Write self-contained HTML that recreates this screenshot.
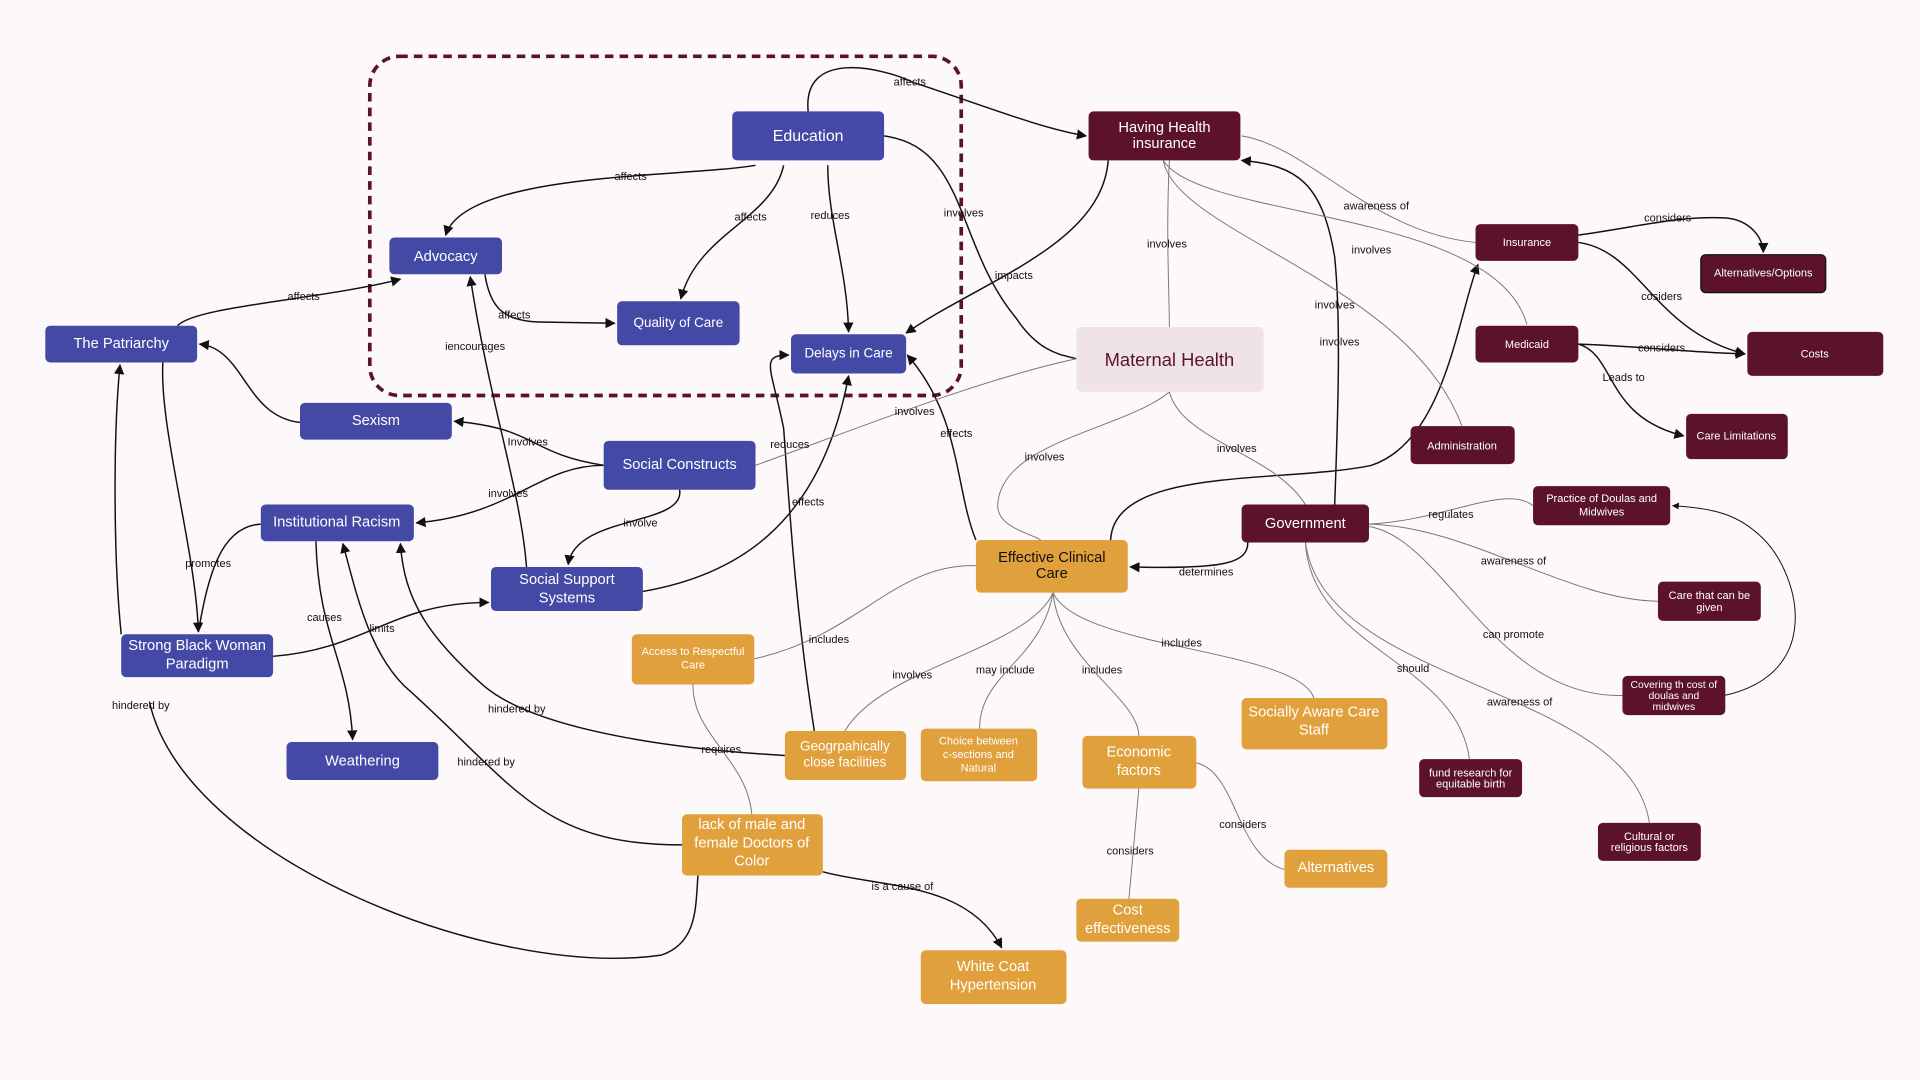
<!DOCTYPE html>
<html><head><meta charset="utf-8"><style>
html,body{margin:0;padding:0;background:#fdf9fb;}
svg{display:block;}
text{font-family:"Liberation Sans",sans-serif;}
.b{fill:#4349a5;}
.m{fill:#5c1229;}
.o{fill:#e0a03c;}
.t{fill:#fff;text-anchor:middle;}
.l{font-size:9px;fill:#111;text-anchor:middle;}
.e{fill:none;stroke:#111;stroke-width:1.2;}
.g{fill:none;stroke:#777;stroke-width:0.8;}
</style></head><body>
<svg width="1920" height="1080" viewBox="0 0 1568 882" xmlns="http://www.w3.org/2000/svg">
<defs><marker id="a" viewBox="0 0 10 10" refX="9" refY="5" markerWidth="7" markerHeight="7" orient="auto"><path d="M0,0L10,5L0,10z" fill="#111"/></marker></defs>
<rect width="1568" height="882" fill="#fdf9fb"/>
<rect x="302" y="46" width="483" height="277" rx="24" fill="none" stroke="#5c1229" stroke-width="3" stroke-dasharray="7,5"/>

<!-- edges -->
<g class="e">
<path d="M660,91 C655,40 720,55 745,67 C800,85 850,105 887,111" marker-end="url(#a)"/>
<path d="M617,135 C560,145 380,140 364,192" marker-end="url(#a)"/>
<path d="M640,135 C630,180 570,190 556,244" marker-end="url(#a)"/>
<path d="M676,135 C676,180 692,220 693,271" marker-end="url(#a)"/>
<path d="M722,111 C790,120 780,200 830,260 C850,290 870,290 879,293"/>
<path d="M905,131 C900,200 800,230 740,272" marker-end="url(#a)"/>
<path d="M145,266 C160,250 260,245 327,228" marker-end="url(#a)"/>
<path d="M396,224 C400,250 410,262 440,263 L502,264" marker-end="url(#a)"/>
<path d="M430,463 C425,400 400,330 384,226" marker-end="url(#a)"/>
<path d="M245,345 C200,340 200,285 163,281" marker-end="url(#a)"/>
<path d="M493,380 C430,370 440,350 371,344" marker-end="url(#a)"/>
<path d="M493,380 C440,380 420,420 340,427" marker-end="url(#a)"/>
<path d="M555,400 C560,430 470,420 464,461" marker-end="url(#a)"/>
<path d="M133,296 C130,350 160,450 162,516" marker-end="url(#a)"/>
<path d="M213,428 C180,430 170,470 162,516"/>
<path d="M223,536 C300,530 320,492 399,492" marker-end="url(#a)"/>
<path d="M258,442 C260,520 285,540 288,604" marker-end="url(#a)"/>
<path d="M525,483 C600,470 670,430 693,307" marker-end="url(#a)"/>
<path d="M665,597 C650,500 645,420 640,350 C630,300 620,290 644,290" marker-end="url(#a)"/>
<path d="M797,441 C780,400 785,340 741,290" marker-end="url(#a)"/>
<path d="M1019,442 C1020,460 1000,465 923,463" marker-end="url(#a)"/>
<path d="M907,441 C910,380 1050,395 1120,380 C1180,360 1190,260 1207,216" marker-end="url(#a)"/>
<path d="M1090,412 C1093,330 1095,260 1090,210 C1080,150 1060,135 1014,131" marker-end="url(#a)"/>
<path d="M122,573 C150,700 400,800 540,780 C570,770 568,740 570,715"/>
<path d="M99,518 C93,460 92,360 98,298" marker-end="url(#a)"/>
<path d="M557,690 C440,690 420,640 330,560 C300,530 290,480 280,444" marker-end="url(#a)"/>
<path d="M641,617 C520,610 430,590 395,560 C350,520 330,490 327,444" marker-end="url(#a)"/>
<path d="M672,712 C720,725 790,720 818,774" marker-end="url(#a)"/>
<path d="M1289,192 C1340,185 1370,176 1410,178 C1430,180 1440,195 1440,206" marker-end="url(#a)"/>
<path d="M1289,198 C1340,205 1350,270 1425,289" marker-end="url(#a)"/>
<path d="M1289,281 C1330,282 1380,288 1425,289" marker-end="url(#a)"/>
<path d="M1289,281 C1320,290 1310,340 1375,356" marker-end="url(#a)"/>
</g>
<g class="g">
<path d="M1014,111 C1070,120 1120,190 1205,198"/>
<path d="M950,131 C980,180 1220,170 1247,265"/>
<path d="M950,131 C960,190 1150,230 1194,348"/>
<path d="M955,131 C952,190 955,240 955,267"/>
<path d="M879,293 C800,310 700,350 617,380"/>
<path d="M955,320 C920,350 820,360 815,410 C812,430 840,435 850,441"/>
<path d="M955,320 C965,360 1040,370 1066,412"/>
<path d="M797,462 C730,460 700,520 616,538"/>
<path d="M860,484 C840,530 720,545 690,597"/>
<path d="M860,484 C850,540 800,550 800,595"/>
<path d="M860,484 C865,540 930,570 930,601"/>
<path d="M860,484 C880,530 1060,530 1073,570"/>
<path d="M930,644 L922,734"/>
<path d="M977,623 C1010,630 1010,700 1049,710"/>
<path d="M566,559 C565,600 610,620 614,665"/>
<path d="M1118,428 C1180,425 1230,395 1252,413"/>
<path d="M1118,428 C1200,430 1280,490 1354,491"/>
<path d="M1118,430 C1180,440 1220,570 1325,568"/>
<path d="M1066,442 C1070,530 1190,540 1200,620"/>
<path d="M1066,442 C1080,560 1330,560 1347,672"/>
</g>
<path d="M1408,568 C1490,550 1470,470 1440,440 C1420,420 1400,415 1366,413" fill="none" stroke="#111" stroke-width="0.8" marker-end="url(#a)"/>

<!-- labels -->
<g class="l">
<text x="743" y="70" style="fill:#111">affects</text>
<text x="515" y="147">affects</text>
<text x="613" y="180">affects</text>
<text x="678" y="179">reduces</text>
<text x="787" y="177">involves</text>
<text x="828" y="228">impacts</text>
<text x="248" y="245">affects</text>
<text x="420" y="260">affects</text>
<text x="388" y="286">iencourages</text>
<text x="431" y="364">Involves</text>
<text x="415" y="406">involves</text>
<text x="523" y="430">involve</text>
<text x="170" y="463">promotes</text>
<text x="265" y="507">causes</text>
<text x="312" y="516">limits</text>
<text x="645" y="366">reduces</text>
<text x="660" y="413">effects</text>
<text x="747" y="339">involves</text>
<text x="781" y="357">effects</text>
<text x="953" y="202">involves</text>
<text x="1124" y="171">awareness of</text>
<text x="1120" y="207">involves</text>
<text x="1090" y="252">involves</text>
<text x="1094" y="282">involves</text>
<text x="1362" y="181">considers</text>
<text x="1357" y="245">cosiders</text>
<text x="1357" y="287">considers</text>
<text x="1326" y="311">Leads to</text>
<text x="853" y="376">involves</text>
<text x="1010" y="369">involves</text>
<text x="985" y="470">determines</text>
<text x="1185" y="423">regulates</text>
<text x="1236" y="461">awareness of</text>
<text x="1236" y="521">can promote</text>
<text x="1154" y="549">should</text>
<text x="1241" y="576">awareness of</text>
<text x="677" y="525">includes</text>
<text x="745" y="554">involves</text>
<text x="821" y="550">may include</text>
<text x="900" y="550">includes</text>
<text x="965" y="528">includes</text>
<text x="115" y="579">hindered by</text>
<text x="422" y="582">hindered by</text>
<text x="397" y="625">hindered by</text>
<text x="589" y="615">requires</text>
<text x="737" y="727">is a cause of</text>
<text x="1015" y="676">considers</text>
<text x="923" y="698">considers</text>
</g>

<!-- nodes -->
<g>
<rect class="b" x="598" y="91" width="124" height="40" rx="4"/><text class="t" x="660" y="115" font-size="13">Education</text>
<rect class="b" x="318" y="194" width="92" height="30" rx="4"/><text class="t" x="364" y="213" font-size="12">Advocacy</text>
<rect class="b" x="504" y="246" width="100" height="36" rx="4"/><text class="t" x="554" y="267" font-size="11">Quality of Care</text>
<rect class="b" x="646" y="273" width="94" height="32" rx="4"/><text class="t" x="693" y="292" font-size="11">Delays in Care</text>
<rect class="b" x="37" y="266" width="124" height="30" rx="4"/><text class="t" x="99" y="284" font-size="12">The Patriarchy</text>
<rect class="b" x="245" y="329" width="124" height="30" rx="4"/><text class="t" x="307" y="347" font-size="12">Sexism</text>
<rect class="b" x="493" y="360" width="124" height="40" rx="4"/><text class="t" x="555" y="383" font-size="12">Social  Constructs</text>
<rect class="b" x="213" y="412" width="125" height="30" rx="4"/><text class="t" x="275" y="430" font-size="12">Institutional Racism</text>
<rect class="b" x="401" y="463" width="124" height="36" rx="4"/><text class="t" x="463" y="477" font-size="12">Social Support</text><text class="t" x="463" y="492" font-size="12">Systems</text>
<rect class="b" x="99" y="518" width="124" height="35" rx="4"/><text class="t" x="161" y="531" font-size="12">Strong Black Woman</text><text class="t" x="161" y="546" font-size="12">Paradigm</text>
<rect class="b" x="234" y="606" width="124" height="31" rx="4"/><text class="t" x="296" y="625" font-size="12">Weathering</text>

<rect class="m" x="889" y="91" width="124" height="40" rx="4"/><text class="t" x="951" y="108" font-size="12">Having Health</text><text class="t" x="951" y="121" font-size="12">insurance</text>
<rect x="879" y="267" width="153" height="53" rx="4" fill="#efe3e6"/><text x="955" y="299" font-size="15" fill="#5c1229" text-anchor="middle">Maternal Health</text>
<rect class="m" x="1014" y="412" width="104" height="31" rx="4"/><text class="t" x="1066" y="431" font-size="12">Government</text>
<rect class="m" x="1205" y="183" width="84" height="30" rx="4"/><text class="t" x="1247" y="201" font-size="9">Insurance</text>
<rect class="m" x="1389" y="208" width="102" height="31" rx="4" stroke="#111" stroke-width="1"/><text class="t" x="1440" y="226" font-size="9">Alternatives/Options</text>
<rect class="m" x="1205" y="266" width="84" height="30" rx="4"/><text class="t" x="1247" y="284" font-size="9">Medicaid</text>
<rect class="m" x="1427" y="271" width="111" height="36" rx="4"/><text class="t" x="1482" y="292" font-size="9">Costs</text>
<rect class="m" x="1152" y="348" width="85" height="31" rx="4"/><text class="t" x="1194" y="367" font-size="9">Administration</text>
<rect class="m" x="1377" y="338" width="83" height="37" rx="4"/><text class="t" x="1418" y="359" font-size="9">Care Limitations</text>
<rect class="m" x="1252" y="397" width="112" height="32" rx="4"/><text class="t" x="1308" y="410" font-size="9">Practice of Doulas and</text><text class="t" x="1308" y="421" font-size="9">Midwives</text>
<rect class="m" x="1354" y="475" width="84" height="32" rx="4"/><text class="t" x="1396" y="489" font-size="9">Care that  can be</text><text class="t" x="1396" y="499" font-size="9">given</text>
<rect class="m" x="1325" y="552" width="84" height="32" rx="4"/><text class="t" x="1367" y="562" font-size="8.5">Covering th cost of</text><text class="t" x="1367" y="571" font-size="8.5">doulas and</text><text class="t" x="1367" y="580" font-size="8.5">midwives</text>
<rect class="m" x="1159" y="620" width="84" height="31" rx="4"/><text class="t" x="1201" y="634" font-size="9">fund research for</text><text class="t" x="1201" y="643" font-size="9">equitable birth</text>
<rect class="m" x="1305" y="672" width="84" height="31" rx="4"/><text class="t" x="1347" y="686" font-size="9">Cultural or</text><text class="t" x="1347" y="695" font-size="9">religious factors</text>

<rect class="o" x="797" y="441" width="124" height="43" rx="4"/><text x="859" y="459" font-size="12" text-anchor="middle" fill="#111">Effective Clinical</text><text x="859" y="472" font-size="12" text-anchor="middle" fill="#111">Care</text>
<rect class="o" x="516" y="518" width="100" height="41" rx="4"/><text class="t" x="566" y="535" font-size="9">Access to Respectful</text><text class="t" x="566" y="546" font-size="9">Care</text>
<rect class="o" x="641" y="597" width="99" height="40" rx="4"/><text class="t" x="690" y="613" font-size="11">Geogrpahically</text><text class="t" x="690" y="626" font-size="11">close facilities</text>
<rect class="o" x="752" y="595" width="95" height="43" rx="4"/><text class="t" x="799" y="608" font-size="9">Choice between</text><text class="t" x="799" y="619" font-size="9">c-sections and</text><text class="t" x="799" y="630" font-size="9">Natural</text>
<rect class="o" x="884" y="601" width="93" height="43" rx="4"/><text class="t" x="930" y="618" font-size="12">Economic</text><text class="t" x="930" y="633" font-size="12">factors</text>
<rect class="o" x="1014" y="570" width="119" height="42" rx="4"/><text class="t" x="1073" y="585" font-size="12">Socially Aware Care</text><text class="t" x="1073" y="600" font-size="12">Staff</text>
<rect class="o" x="1049" y="694" width="84" height="31" rx="4"/><text class="t" x="1091" y="712" font-size="12">Alternatives</text>
<rect class="o" x="879" y="734" width="84" height="35" rx="4"/><text class="t" x="921" y="747" font-size="12">Cost</text><text class="t" x="921" y="762" font-size="12">effectiveness</text>
<rect class="o" x="557" y="665" width="115" height="50" rx="4"/><text class="t" x="614" y="677" font-size="12">lack of male and</text><text class="t" x="614" y="692" font-size="12">female Doctors of</text><text class="t" x="614" y="707" font-size="12">Color</text>
<rect class="o" x="752" y="776" width="119" height="44" rx="4"/><text class="t" x="811" y="793" font-size="12">White Coat</text><text class="t" x="811" y="808" font-size="12">Hypertension</text>
</g>
</svg>
</body></html>
